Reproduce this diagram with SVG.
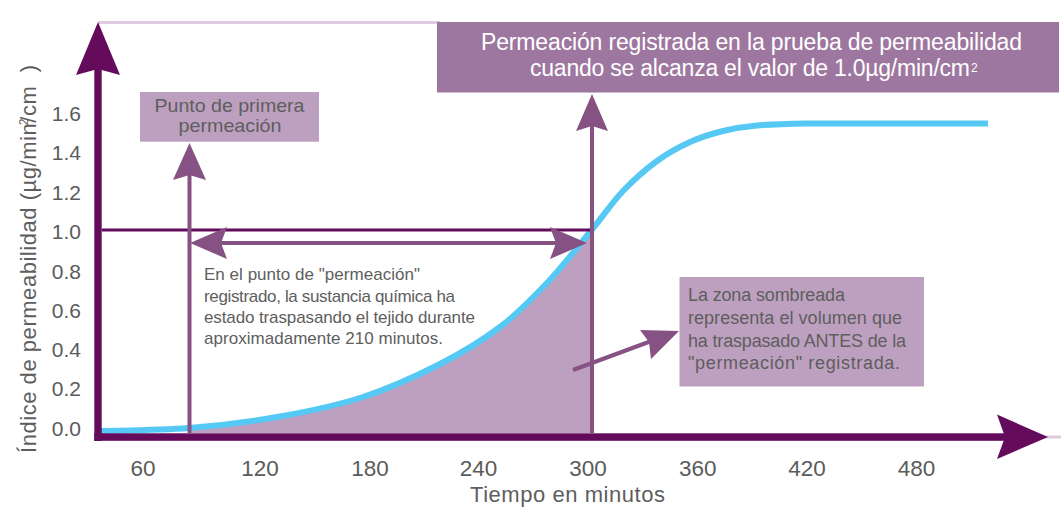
<svg xmlns="http://www.w3.org/2000/svg" width="1061" height="517" viewBox="0 0 1061 517">
<style>
.axis{fill:#640b5c}
.axisline{stroke:#640b5c;fill:none}
.arr{fill:#865283}
.arrline{stroke:#865283;stroke-width:4;fill:none}
.light{stroke:#ddcbdf;stroke-width:3;fill:none}
.tick{font-family:"Liberation Sans",Arial,sans-serif;font-size:21px;fill:#5b5b5b}
.xtick{font-family:"Liberation Sans",Arial,sans-serif;font-size:22.5px;fill:#5b5b5b;text-anchor:middle}
.lbl{font-family:"Liberation Sans",Arial,sans-serif;fill:#5e5e5e}
.white{font-family:"Liberation Sans",Arial,sans-serif;fill:#ffffff}
.box{fill:#bda0bf}
</style>
<rect width="1061" height="517" fill="#ffffff"/>

<!-- light guide lines -->
<line class="light" x1="98" y1="22.5" x2="440" y2="22.5"/>
<line class="light" x1="1044" y1="437" x2="1061" y2="437"/>

<!-- shaded area -->
<path id="shading" fill="#bda0bf" d="M189,433 L189,428 C219,425.6 251,421.67 280,416.5 C309,411.33 336.3,405.75 363,397 C389.7,388.25 417.2,375.67 440,364 C462.8,352.33 482.2,340.5 500,327 C517.8,313.5 532,298.8 547,283 C562,267.2 577.3,247.3 590,232 L592,229.3 L592,433 Z"/>

<!-- curve -->
<path id="curve" fill="none" stroke="#55c9f3" stroke-width="6" stroke-linecap="butt" d="M100,431 C114.8,430.5 159,430.4 189,428 C219,425.6 251,421.67 280,416.5 C309,411.33 336.3,405.75 363,397 C389.7,388.25 417.2,375.67 440,364 C462.8,352.33 482.2,340.5 500,327 C517.8,313.5 532,298.8 547,283 C562,267.2 577.3,247.3 590,232 C602.7,216.7 611.8,202.8 623,191 C634.2,179.3 645.8,169.2 657,161 C668.2,152.8 679,147 690,142 C701,137 711.8,133.75 723,131 C734.2,128.25 743,126.75 757,125.5 C771,124.25 789.8,123.83 807,123.5 L988,123.5"/>

<!-- axes -->
<g id="axes">
  <rect class="axis" x="94.3" y="60" width="7.4" height="381"/>
  <polygon class="axis" points="98,22 120,75 98,69 76,75"/>
  <rect class="axis" x="94.3" y="433.3" width="912" height="7.5"/>
  <polygon class="axis" points="1048,437 997,459 1005,437 997,414.5"/>
  <line class="axisline" x1="101.7" y1="230" x2="592" y2="230" stroke-width="3"/>
</g>

<!-- connectors -->
<g id="connectors">
  <line class="arrline" x1="189.5" y1="172" x2="189.5" y2="433"/>
  <polygon class="arr" points="189.5,143 206,180 189.5,175 173,180"/>
  <line class="arrline" x1="592" y1="124" x2="592" y2="433"/>
  <polygon class="arr" points="592,94 608,131 592,126 576,131"/>
  <line class="arrline" x1="218" y1="243" x2="560" y2="243"/>
  <polygon class="arr" points="190,243 227,227 221,243 227,259"/>
  <polygon class="arr" points="587,243 550,227 556,243 550,259"/>
  <line class="arrline" x1="573" y1="370" x2="650" y2="341.5" stroke-width="4.5"/>
  <polygon class="arr" points="679,331 651,359 649,342 640,330"/>
</g>

<!-- y tick labels -->
<g id="yticks" class="tick" text-anchor="end">
  <text x="81" y="121">1.6</text>
  <text x="81" y="160">1.4</text>
  <text x="81" y="199.5">1.2</text>
  <text x="81" y="239.3">1.0</text>
  <text x="81" y="278.8">0.8</text>
  <text x="81" y="318">0.6</text>
  <text x="81" y="357">0.4</text>
  <text x="81" y="396.3">0.2</text>
  <text x="81" y="435.5">0.0</text>
</g>

<!-- x tick labels -->
<g id="xticks" class="xtick">
  <text x="143" y="476">60</text>
  <text x="260" y="476">120</text>
  <text x="370" y="476">180</text>
  <text x="478.5" y="476">240</text>
  <text x="588" y="476">300</text>
  <text x="697.7" y="476">360</text>
  <text x="807" y="476">420</text>
  <text x="916.5" y="476">480</text>
</g>

<!-- axis titles -->
<text id="xtitle" class="lbl" x="470" y="502" font-size="22" textLength="195" fill="#5b5b5b">Tiempo en minutos</text>
<g id="ytitle" transform="translate(35.5,453) rotate(-90)">
  <text class="lbl" x="0" y="0" font-size="22" textLength="388" fill="#5b5b5b">Índice de permeabilidad (µg/min/cm&#160;&#160;)</text>
  <text class="lbl" x="331" y="-8" font-size="12" text-anchor="middle" fill="#5b5b5b">2</text>
</g>

<!-- node: top box -->
<g id="node-registrada">
  <rect x="437" y="22" width="622" height="70.5" fill="#9e77a0"/>
  <text class="white" x="481" y="49.5" font-size="23" textLength="541">Permeación registrada en la prueba de permeabilidad</text>
  <text class="white" x="530" y="76" font-size="23" textLength="440">cuando se alcanza el valor de 1.0µg/min/cm</text>
  <text class="white" x="971" y="71.7" font-size="12">2</text>
</g>

<!-- node: punto de primera permeacion -->
<g id="node-punto">
  <rect class="box" x="140" y="92" width="179" height="49.7"/>
  <text class="lbl" x="229.5" y="112.3" font-size="17.9" text-anchor="middle" textLength="150" lengthAdjust="spacingAndGlyphs">Punto de primera</text>
  <text class="lbl" x="230" y="132.3" font-size="17.9" text-anchor="middle" textLength="103" lengthAdjust="spacingAndGlyphs">permeación</text>
</g>

<!-- node: explanation text -->
<g id="node-explicacion" class="lbl" font-size="17">
  <text x="204" y="280" textLength="216">En el punto de "permeación"</text>
  <text x="204" y="302" textLength="251">registrado, la sustancia química ha</text>
  <text x="204" y="322.5" textLength="271">estado traspasando el tejido durante</text>
  <text x="204" y="343.5" textLength="239">aproximadamente 210 minutos.</text>
</g>

<!-- node: zona sombreada -->
<g id="node-zona">
  <rect class="box" x="679.5" y="277" width="244.5" height="109.5"/>
  <g class="lbl" font-size="18">
    <text x="688" y="300.5" textLength="157">La zona sombreada</text>
    <text x="688" y="323.5" textLength="214">representa el volumen que</text>
    <text x="688" y="346.5" textLength="218">ha traspasado ANTES de la</text>
    <text x="688" y="369" textLength="212">"permeación" registrada.</text>
  </g>
</g>
</svg>
